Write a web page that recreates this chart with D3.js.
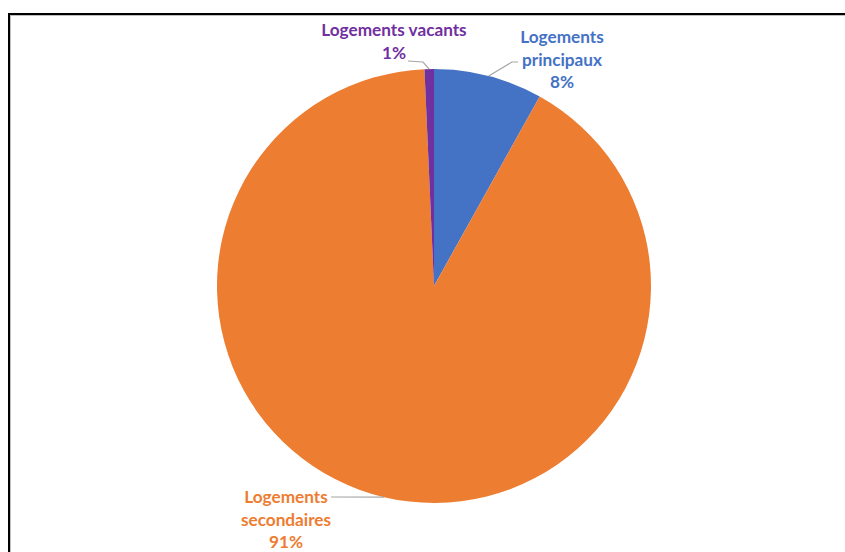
<!DOCTYPE html>
<html><head><meta charset="utf-8">
<script src="https://cdn.jsdelivr.net/npm/d3@7"></script>
<style>html,body{margin:0;padding:0;background:#fff;}svg{display:block;}</style>
</head><body>
<svg id="chart" width="845" height="552"></svg>
<script>
const categories = ["Logements principaux", "Logements secondaires", "Logements vacants"];
const values = [8.1, 91.2, 0.7];
const pctLabels = ["8%", "91%", "1%"];
const labelLines = [["Logements", "principaux", "8%"], ["Logements", "secondaires", "91%"], ["Logements vacants", "1%"]];
const colors = ["#4472C4", "#ED7D31", "#7030A0"];

const W = 845, H = 552;
const cx = 434, cy = 286, R = 217;
// label layout: centre x, first baseline, and leader line start
const labelLayout = [
  {x: 562, y: 43, lead: [[518, 62], [512, 62]]},
  {x: 286, y: 503, lead: [[331, 497]]},
  {x: 394, y: 36, lead: [[408, 61], [423, 62]]}
];
const lineH = 22.5;

const svg = d3.select("#chart");
// frame
svg.append("rect").attr("x", 10).attr("y", 15).attr("width", 900).attr("height", 600)
  .attr("fill", "none").attr("stroke", "#bfbfbf").attr("stroke-width", 2);
svg.append("rect").attr("x", 9).attr("y", 14).attr("width", 900).attr("height", 600)
  .attr("fill", "none").attr("stroke", "#000").attr("stroke-width", 2);

const pie = d3.pie().sort(null).value(d => d).startAngle(0).endAngle(2 * Math.PI);
const arcs = pie(values);
const arc = d3.arc().innerRadius(0).outerRadius(R);

const g = svg.append("g").attr("transform", `translate(${cx},${cy})`);
g.selectAll("path").data(arcs).enter().append("path")
  .attr("d", arc).attr("fill", (d, i) => colors[i]);

// leader lines
arcs.forEach((a, i) => {
  const mid = (a.startAngle + a.endAngle) / 2;
  const px = cx + R * Math.sin(mid), py = cy - R * Math.cos(mid);
  const pts = labelLayout[i].lead.concat([[px, py]]);
  svg.append("path").attr("d", d3.line()(pts))
    .attr("fill", "none").attr("stroke", "#a6a6a6").attr("stroke-width", 1.2);
});

// labels
labelLines.forEach((lines, i) => {
  const t = svg.append("text").attr("text-anchor", "middle")
    .attr("font-family", "Lato, 'Open Sans', sans-serif").attr("font-weight", 700)
    .attr("font-size", 17.2).attr("fill", colors[i]);
  lines.forEach((s, j) => {
    t.append("tspan").attr("x", labelLayout[i].x).attr("y", labelLayout[i].y + j * lineH).text(s);
  });
});
</script>
</body></html>
